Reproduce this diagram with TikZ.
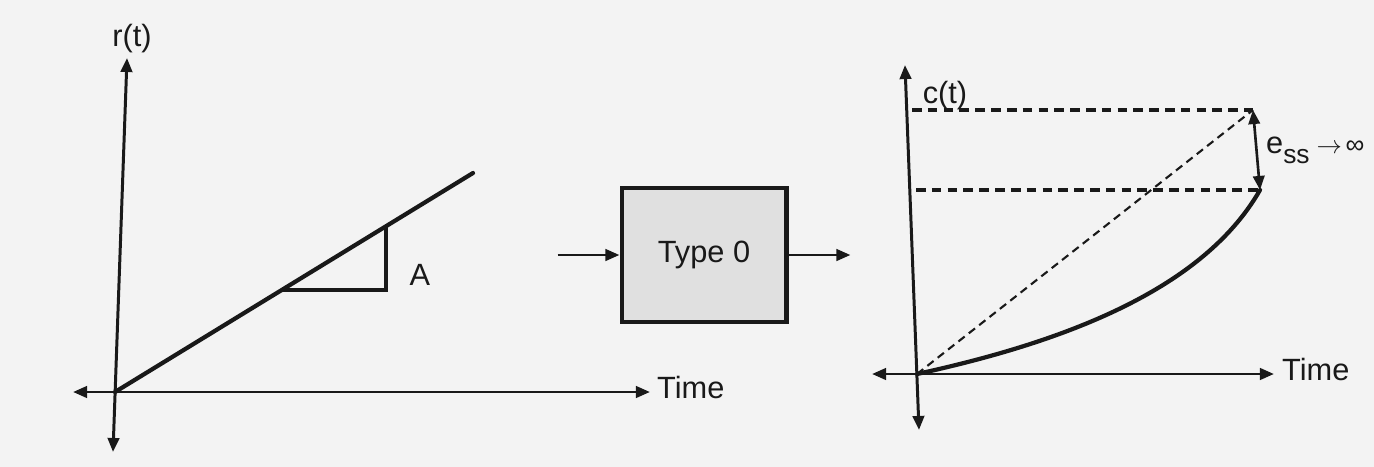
\documentclass[tikz,border=0pt]{standalone}
\usepackage{fontspec}
\setmainfont{Liberation Sans}
\usetikzlibrary{arrows.meta,positioning}
\definecolor{paper}{RGB}{243,243,243}
\definecolor{boxgray}{RGB}{224,224,224}
\definecolor{ink}{RGB}{25,25,25}

\begin{document}
\begin{tikzpicture}[x=0.02cm,y=-0.02cm,>={Triangle[length=8pt,width=6.5pt]},
  every node/.style={font=\fontsize{17.5}{20}\selectfont,text=ink},
  axis/.style={<->,line width=1.7pt,draw=ink},
  curve/.style={line width=2.4pt,draw=ink,line cap=round},
  guide/.style={dash pattern=on 5.5pt off 3.5pt,line width=1.8pt,draw=ink},
  sysbox/.style={draw=ink,line width=2.3pt,fill=boxgray,minimum width=3.3cm,minimum height=2.68cm}]
  \fill[paper] (0,0) rectangle (1374,467);
  \useasboundingbox (0,0) rectangle (1374,467);
  % input: ramp
  \coordinate (b1) at (113,452);
  \coordinate (t1) at (127,58);
  \coordinate (l1) at (73,392);
  \coordinate (e1) at (650,392);
  \coordinate (o1) at (115,392);
  \coordinate (r1) at (473,173);
  \draw[axis] (b1) -- (t1);
  \draw[axis] (l1) -- (e1);
  \draw[curve] (o1) -- (r1);
  \draw[curve,line cap=butt] (282,290) -- (386,290) -- (386,226);
  \node (rt) at (132,39) {r(t)};
  \node[anchor=west] (time1) at (651,388) {Time};
  \node (a) at (420,275) {A};
  % system block
  \node[sysbox] (sys) at (704,255) {Type 0};
  \coordinate[left=1.24cm of sys.west] (in);
  \coordinate[right=1.24cm of sys.east] (out);
  \draw[->,line width=1.7pt,draw=ink] (in) -- (sys);
  \draw[->,line width=1.7pt,draw=ink] (sys) -- (out);
  % output: response
  \coordinate (b2) at (919,430);
  \coordinate (t2) at (905,65);
  \coordinate (l2) at (872,374);
  \coordinate (e2) at (1274,374);
  \coordinate (o2) at (917,374);
  \coordinate (top2) at (1253,110);
  \coordinate (end2) at (1260,190);
  \draw[axis] (b2) -- (t2);
  \draw[axis] (l2) -- (e2);
  \draw[guide] (912,110) -- (top2);
  \draw[guide] (916,190) -- (end2);
  \draw[guide,line width=1.2pt,dash pattern=on 4.5pt off 3pt] (o2) -- (top2);
  \draw[curve] (o2) .. controls (1050,345) and (1200,295) .. (end2);
  \draw[<->,line width=1.5pt,draw=ink] (top2) -- (end2);
  \node (ct) at (945,96) {c(t)};
  \node[anchor=west] (time2) at (1276,370) {Time};
  \node[anchor=west] (ess) at (1260,150) {e\raisebox{-0.32em}{\fontsize{15}{16}\selectfont ss}{\fontsize{15}{16}\selectfont\hspace{4pt}$\rightarrow$\hspace{2pt}∞}};
\end{tikzpicture}
\end{document}
